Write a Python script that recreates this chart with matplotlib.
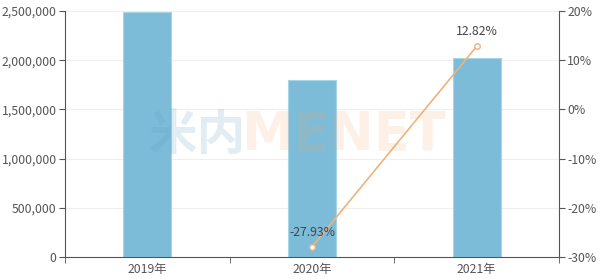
import matplotlib.pyplot as plt
import numpy as np
from matplotlib.ticker import FuncFormatter

plt.rcParams['font.family'] = ['Noto Sans CJK SC', 'DejaVu Sans']

years = ["2019年", "2020年", "2021年"]
values = [2490000, 1797000, 2026000]
growth = [None, -27.93, 12.82]

fig = plt.figure(figsize=(6, 2.79), dpi=100)
ax = fig.add_axes([65 / 600, 22 / 279, 494 / 600, 246 / 279])
ax2 = ax.twinx()

x = np.arange(len(years))
ax.bar(x, values, width=0.29, color="#7dbcd9", edgecolor="#a8d4e8", linewidth=0.8, zorder=2)

ax.set_xlim(-0.5, 2.5)
ax.set_ylim(0, 2500000)
ax.set_yticks(np.arange(0, 2500001, 500000))
ax.yaxis.set_major_formatter(FuncFormatter(lambda v, p: f"{int(v):,}"))
ax.set_xticks(x)
ax.set_xticklabels(years)
ax.set_xticks([-0.5, 0.5, 1.5, 2.5], minor=True)
ax.tick_params(axis="x", which="major", length=0, labelsize=8.8, colors="#555555", pad=4)
ax.tick_params(axis="x", which="minor", length=4, color="#555555")
ax.tick_params(axis="y", length=4, labelsize=8.8, colors="#555555", pad=2)
ax.grid(axis="y", color="#eeeeee", linewidth=0.8, zorder=0)
ax.set_axisbelow(True)

for s in ["top", "right"]:
    ax.spines[s].set_visible(False)
ax.spines["left"].set_color("#555555")
ax.spines["bottom"].set_color("#555555")

# growth line
gx = [i for i, g in enumerate(growth) if g is not None]
gy = [g for g in growth if g is not None]
ax2.plot(gx, gy, color="#f0b27a", linewidth=1.2, marker="o", markersize=4,
         markerfacecolor="white", markeredgecolor="#f0b27a", zorder=3)
for xi, yi in zip(gx, gy):
    ax2.text(xi, yi + 1.6, f"{yi:.2f}%", ha="center", va="bottom", fontsize=8.8, color="#444444")

ax2.set_ylim(-30, 20)
ax2.set_yticks(np.arange(-30, 21, 10))
ax2.yaxis.set_major_formatter(FuncFormatter(lambda v, p: f"{int(v)}%"))
ax2.tick_params(axis="y", length=4, labelsize=8.8, colors="#555555", pad=2)
for s in ["top", "left", "bottom"]:
    ax2.spines[s].set_visible(False)
ax2.spines["right"].set_color("#555555")

# watermark
fig.text(198 / 600, 1 - 135 / 279, "米内", fontsize=35, fontweight="bold", color="#5a9fbf",
         alpha=0.18, ha="center", va="center", zorder=1)
fig.text(343 / 600, 1 - 135 / 279, "MENET", fontsize=38, fontweight="bold", color="#f4a460",
         alpha=0.15, ha="center", va="center", zorder=1, family="DejaVu Sans")

fig.savefig("out.png", dpi=100)
plt.close()
